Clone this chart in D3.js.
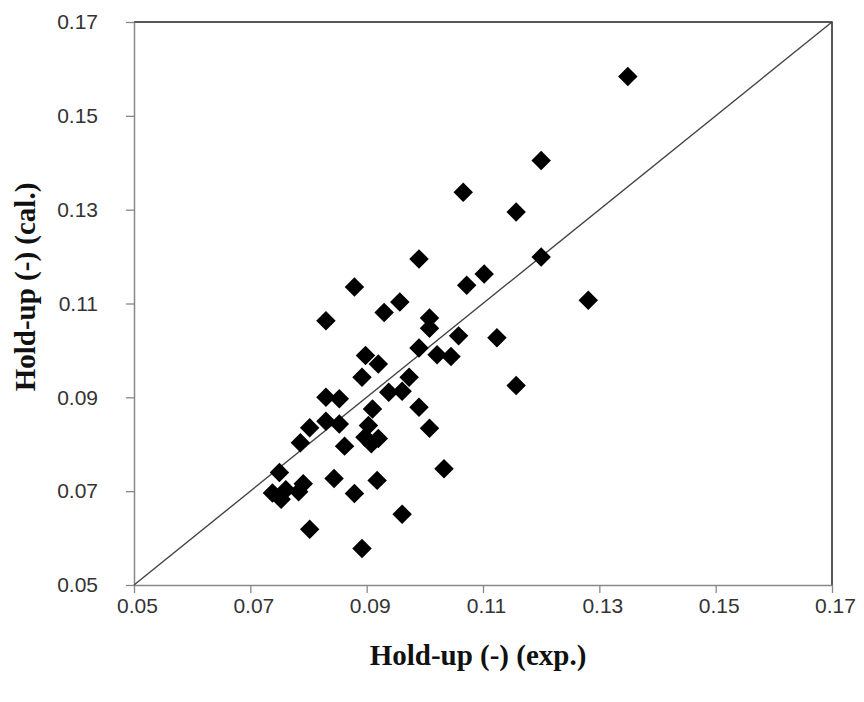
<!DOCTYPE html>
<html lang="en">
<head>
  <meta charset="UTF-8">
  <title>Hold-up parity plot</title>
  <script src="https://d3js.org/d3.v7.min.js"></script>
  <style>
    body { margin: 0; padding: 0; background: #fff; }
    .tick text { font-family: "Liberation Sans", Arial, sans-serif; font-size: 21px; fill: #333; }
    .axis-title { font-family: "Liberation Serif", "Times New Roman", serif; font-size: 29px; font-weight: bold; fill: #111; }
  </style>
</head>
<body>
  <svg id="chart"></svg>
  <script>
    // experimental hold-up vs calculated hold-up
    const expHoldup = [
      0.1349, 0.1200, 0.1066, 0.1157, 0.0990, 0.1200, 0.1102, 0.1072, 0.0879, 0.1281,
      0.0957, 0.0930, 0.0830, 0.1008, 0.1008, 0.1124, 0.1058, 0.0990, 0.1021, 0.1045,
      0.0898, 0.0920, 0.0892, 0.0973, 0.0938, 0.0961, 0.1157, 0.0830, 0.0853, 0.0990,
      0.0910, 0.0830, 0.0853, 0.0802, 0.1008, 0.0903, 0.0786, 0.0897, 0.0920, 0.0908,
      0.0862, 0.1033, 0.0750, 0.0844, 0.0918, 0.0791, 0.0761, 0.0738, 0.0783, 0.0753,
      0.0879, 0.0961, 0.0802, 0.0892
    ];
    const calHoldup = [
      0.1584, 0.1405, 0.1337, 0.1295, 0.1195, 0.1199, 0.1163, 0.1139, 0.1135, 0.1107,
      0.1103, 0.1081, 0.1063, 0.1069, 0.1047, 0.1027, 0.1031, 0.1005, 0.0991, 0.0987,
      0.0989, 0.0971, 0.0943, 0.0943, 0.0911, 0.0913, 0.0925, 0.0900, 0.0897, 0.0879,
      0.0875, 0.0849, 0.0843, 0.0835, 0.0834, 0.0840, 0.0803, 0.0815, 0.0812, 0.0801,
      0.0796, 0.0748, 0.0740, 0.0727, 0.0723, 0.0716, 0.0703, 0.0696, 0.0699, 0.0683,
      0.0695, 0.0651, 0.0619, 0.0578
    ];
    const tickValues = [0.05, 0.07, 0.09, 0.11, 0.13, 0.15, 0.17];
    const parityLine = [0.05, 0.17];

    const width = 864;
    const height = 702;
    const margin = { top: 22, right: 32, bottom: 117, left: 134 };

    const svg = d3.select("#chart")
      .attr("width", width)
      .attr("height", height);

    const x = d3.scaleLinear().domain([0.05, 0.17]).range([margin.left, width - margin.right]);
    const y = d3.scaleLinear().domain([0.05, 0.17]).range([height - margin.bottom, margin.top]);

    // frame (top and right edges)
    svg.append("path")
      .attr("fill", "none")
      .attr("stroke", "#222")
      .attr("stroke-width", 1.5)
      .attr("d", `M${x(0.05)},${y(0.17)}H${x(0.17)}V${y(0.05)}`);

    const xAxis = svg.append("g")
      .attr("transform", `translate(0,${y(0.05)})`)
      .call(d3.axisBottom(x).tickValues(tickValues).tickFormat(d3.format(".2f")).tickSize(8).tickSizeOuter(0));
    xAxis.select(".domain").attr("stroke", "#888").attr("stroke-width", 1.5);
    xAxis.selectAll(".tick line").attr("stroke", "#888").attr("stroke-width", 1.3);
    xAxis.selectAll(".tick text").attr("y", 13).attr("dx", 3);

    const yAxis = svg.append("g")
      .attr("transform", `translate(${x(0.05)},0)`)
      .call(d3.axisLeft(y).tickValues(tickValues).tickFormat(d3.format(".2f")).tickSize(8).tickSizeOuter(0));
    yAxis.select(".domain").attr("stroke", "#888").attr("stroke-width", 1.5);
    yAxis.selectAll(".tick line").attr("stroke", "#888").attr("stroke-width", 1.3);
    yAxis.selectAll(".tick text").attr("x", -36);

    // y = x parity line
    svg.append("line")
      .attr("x1", x(parityLine[0]))
      .attr("y1", y(parityLine[0]))
      .attr("x2", x(parityLine[1]))
      .attr("y2", y(parityLine[1]))
      .attr("stroke", "#444")
      .attr("stroke-width", 1.4);

    const diamond = d3.symbol(d3.symbolSquare, 190);
    svg.append("g")
      .selectAll("path")
      .data(expHoldup.map((d, i) => [d, calHoldup[i]]))
      .join("path")
      .attr("d", diamond)
      .attr("transform", d => `translate(${x(d[0])},${y(d[1])}) rotate(45)`)
      .attr("fill", "#000");

    svg.append("text")
      .attr("class", "axis-title")
      .attr("x", 478)
      .attr("y", 665)
      .attr("text-anchor", "middle")
      .text("Hold-up (-) (exp.)");

    svg.append("text")
      .attr("class", "axis-title")
      .attr("transform", `translate(35,287) rotate(-90)`)
      .attr("text-anchor", "middle")
      .text("Hold-up (-) (cal.)");
  </script>
</body>
</html>
